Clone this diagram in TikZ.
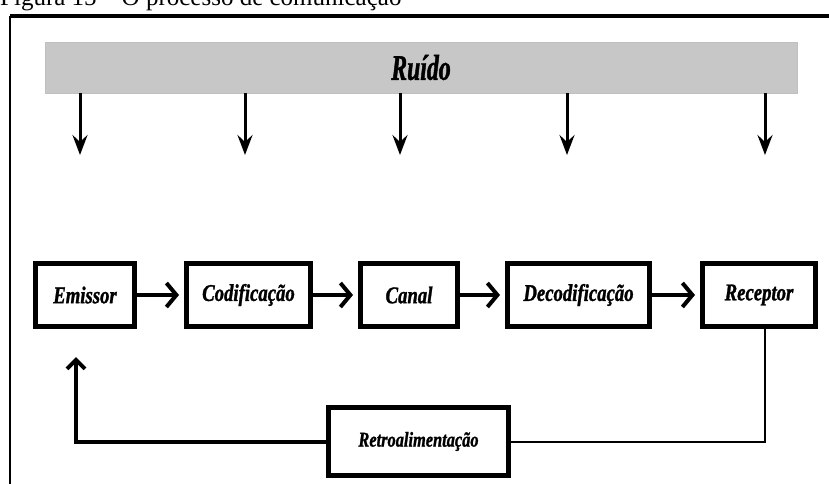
\documentclass[tikz,border=0pt]{standalone}
\usepackage{fontspec}
\setmainfont{Liberation Serif}
\newfontfamily\narrowfont[FakeStretch=0.78, FakeBold=1.2]{Liberation Serif}
\newfontfamily\noisefont[FakeStretch=0.66, FakeBold=1.2]{Liberation Serif}
\usetikzlibrary{arrows.meta, positioning, calc}

\begin{document}
\begin{tikzpicture}[
    x=1pt, y=-1pt,
    blk/.style={draw, line width=5pt, fill=white, minimum height=63pt, inner sep=2pt,
        font=\narrowfont\bfseries\itshape\fontsize{24}{24}\selectfont,
        path picture={
            \fill (path picture bounding box.north west) rectangle ([yshift=-6pt]path picture bounding box.north east);
            \fill (path picture bounding box.south west) rectangle ([yshift=6pt]path picture bounding box.south east);
        }},
    flow/.style={line width=4pt, shorten >=5pt, -{Straight Barb[length=10pt, width=24pt]}},
    noise/.style={line width=3pt, -{Stealth[length=20pt, width=15pt, inset=7pt]}}
]
    \useasboundingbox (0,0) rectangle (829,484);
    \begin{scope}
        \clip (0,0) rectangle (829,484);
        \node[anchor=base west, inner sep=0pt, font=\fontsize{25}{25}\selectfont] (caption) at (0,6) {Figura 15 – O processo de comunicação};
    \end{scope}

    \draw[line width=3.5pt] (10,16) -- (829,16);
    \draw[line width=2.5pt] (10,16) -- (10,484);

    \node[draw=gray!50, fill=black!22, line width=0.8pt, minimum width=752pt, minimum height=51pt,
          font=\noisefont\bfseries\itshape\fontsize{36}{36}\selectfont] (ruido) at (421,67.5) {Ruído};

    \foreach \nx [count=\i] in {80,245,400,567,765}{
        \coordinate (n\i) at (\nx,155);
        \draw[noise] (ruido.south -| n\i) -- (n\i);
    }

    \node[blk, minimum width=99pt] (emissor) at (85,295) {Emissor};
    \node[blk, minimum width=124pt, right=47pt of emissor] (codif) {Codificação};
    \node[blk, minimum width=97pt, right=45pt of codif] (canal) {Canal};
    \node[blk, minimum width=142pt, right=45pt of canal] (decodif) {Decodificação};
    \node[blk, minimum width=113pt, right=48pt of decodif] (receptor) {Receptor};
    \node[blk, minimum width=180pt, minimum height=68pt, font=\narrowfont\bfseries\itshape\fontsize{21}{21}\selectfont] (retro) at (418.5,441.5) {Retroalimentação};

    \draw[flow] (emissor) -- (codif);
    \draw[flow] (codif) -- (canal);
    \draw[flow] (canal) -- (decodif);
    \draw[flow] (decodif) -- (receptor);

    \coordinate (fbtip) at (76,357);
    \draw[line width=2pt] ([xshift=6pt]receptor.south) |- (retro.east);
    \draw[line width=4pt, -{Straight Barb[length=9pt, width=18pt]}] (retro.west) -| (fbtip);
\end{tikzpicture}
\end{document}
